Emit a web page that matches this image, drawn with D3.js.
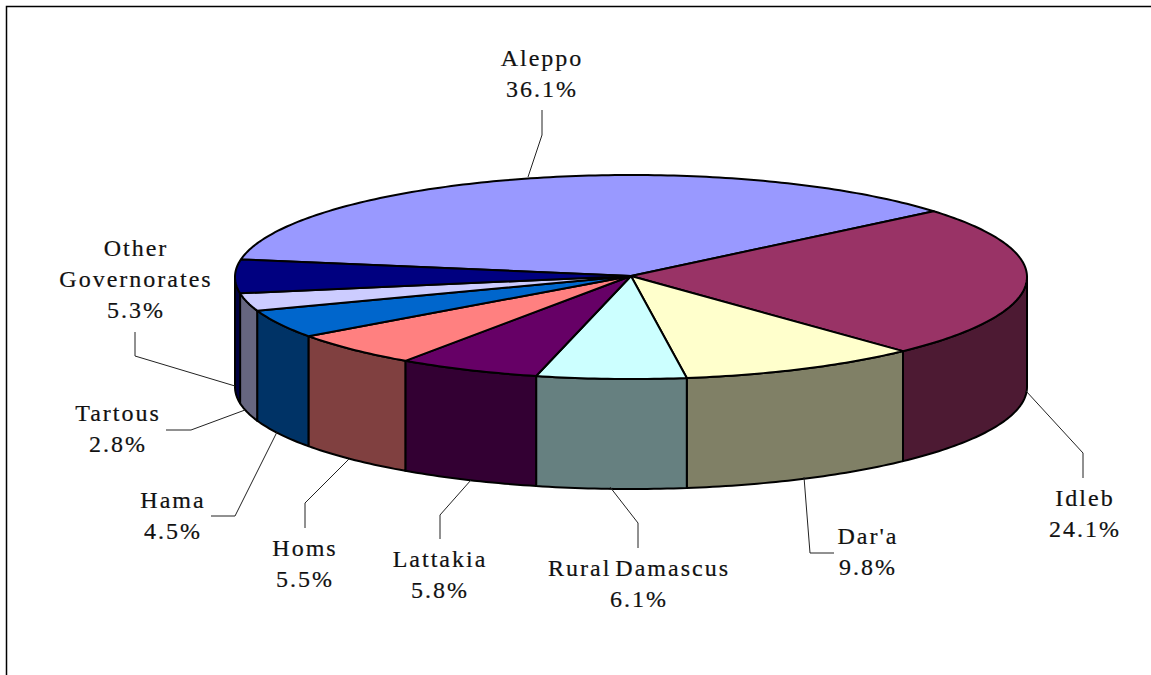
<!DOCTYPE html>
<html>
<head>
<meta charset="utf-8">
<script src="https://cdn.jsdelivr.net/npm/d3@7"></script>
<style>
  html, body { margin: 0; padding: 0; background: #fff; overflow: hidden; }
  text { font-family: "Liberation Serif", serif; font-size: 24px; letter-spacing: 2px; word-spacing: -4px; fill: #111; stroke: #111; stroke-width: 0.2px; text-anchor: middle; }
</style>
</head>
<body>
<div id="chart"></div>
<script>
const governorates = ["Aleppo", "Idleb", "Dar'a", "Rural Damascus", "Lattakia", "Homs", "Hama", "Tartous", "Other Governorates"];
const shares = [36.1, 24.1, 9.8, 6.1, 5.8, 5.5, 4.5, 2.8, 5.3];
const topColors = ["#9999ff", "#993366", "#ffffcc", "#ccffff", "#660066", "#ff8080", "#0066cc", "#ccccff", "#000080"];
const sideColors = ["#4d4d80", "#4d1a33", "#808066", "#668080", "#330033", "#804040", "#003366", "#666680", "#000040"];

// label lines and leader lines sit by hand, same order as governorates
const labelLines = [["Aleppo"], ["Idleb"], ["Dar'a"], ["Rural Damascus"], ["Lattakia"], ["Homs"], ["Hama"], ["Tartous"], ["Other", "Governorates"]];
const labelPos = [[542, 66], [1085, 506], [868, 544], [639, 576], [440, 567], [305, 556], [173, 508], [118, 421], [136, 256]];
const leaders = [
    [[542, 110], [542, 135], [528, 177]],
    [[1026, 391], [1083, 453], [1083, 478]],
    [[804, 477], [810, 553], [834, 553]],
    [[610, 487], [638, 523], [638, 548]],
    [[471, 480], [440, 515], [440, 539]],
    [[349, 459], [305, 503], [305, 528]],
    [[277, 432], [235, 516], [211, 516]],
    [[245, 410], [191, 430], [166, 430]],
    [[235, 386], [135, 356], [135, 332]]
];

const width = 1151, height = 675;
const cx = 631, cy = 277, rx = 396, ry = 102, depth = 110;
const lineGap = 31;

const svg = d3.select("#chart").append("svg")
    .attr("width", width)
    .attr("height", height);

// frame runs off the right and bottom of the window
svg.append("path")
    .attr("d", `M6.5,${height + 5}V6.5H${width + 5}`)
    .attr("fill", "none")
    .attr("stroke", "#000")
    .attr("stroke-width", 1.5);

// tilted disc: sin/cos of the slice angle go through two scales
const xScale = d3.scaleLinear().domain([-1, 1]).range([cx - rx, cx + rx]);
const yScale = d3.scaleLinear().domain([-1, 1]).range([cy + ry, cy - ry]);

const start = -80.1 * Math.PI / 180;
const slices = d3.pie().sort(null).startAngle(start).endAngle(start + 2 * Math.PI)(shares);

function rimPoints(a0, a1) {
    const n = Math.max(2, Math.ceil((a1 - a0) * 60));
    return d3.range(n + 1).map(i => {
        const a = a0 + (a1 - a0) * i / n;
        return [xScale(Math.sin(a)), yScale(Math.cos(a))];
    });
}

const line = d3.line();

// front walls, only the part of each slice between 90 and 270 degrees
const walls = svg.append("g");
slices.forEach(s => {
    const a0 = Math.max(s.startAngle, Math.PI / 2);
    const a1 = Math.min(s.endAngle, 3 * Math.PI / 2);
    if (a1 <= a0) return;
    const upper = rimPoints(a0, a1);
    const lower = upper.map(p => [p[0], p[1] + depth]).reverse();
    walls.append("path")
        .attr("d", line(upper.concat(lower)) + "Z")
        .attr("fill", sideColors[s.index])
        .attr("stroke", "#000")
        .attr("stroke-width", 2)
        .attr("stroke-linejoin", "round");
});

const tops = svg.append("g");
slices.forEach(s => {
    const pts = [[cx, cy - 1]].concat(rimPoints(s.startAngle, s.endAngle));
    tops.append("path")
        .attr("d", line(pts) + "Z")
        .attr("fill", topColors[s.index])
        .attr("stroke", "#000")
        .attr("stroke-width", 2)
        .attr("stroke-linejoin", "round");
});

leaders.forEach(l => {
    svg.append("path")
        .attr("d", line(l))
        .attr("fill", "none")
        .attr("stroke", "#222")
        .attr("stroke-width", 1);
});

governorates.forEach((g, i) => {
    const rows = labelLines[i].concat([shares[i].toFixed(1) + "%"]);
    const t = svg.append("text").attr("transform", `translate(${labelPos[i][0]},${labelPos[i][1]})`);
    rows.forEach((r, k) => {
        t.append("tspan").attr("x", 0).attr("y", k * lineGap).text(r);
    });
});
</script>
</body>
</html>
